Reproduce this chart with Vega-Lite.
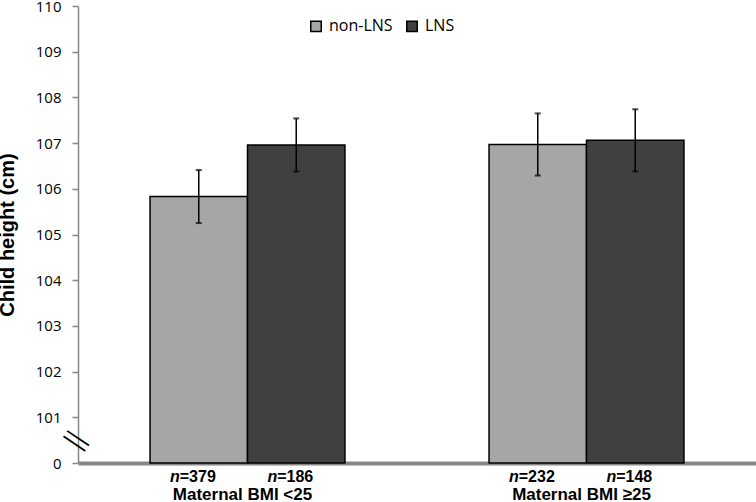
{
  "$schema": "https://vega.github.io/schema/vega-lite/v6.json",
  "width": 678,
  "height": 457,
  "autosize": {"type": "none"},
  "padding": {"left": 78, "top": 6, "right": 0, "bottom": 39},
  "background": "white",
  "config": {"view": {"stroke": null}, "font": "Liberation Sans"},
  "data": {
    "values": [
      {"group": "Maternal BMI <25", "series": "non-LNS", "mean": 105.83, "lo": 105.25, "hi": 106.41, "n": "=379"},
      {"group": "Maternal BMI <25", "series": "LNS", "mean": 106.96, "lo": 106.38, "hi": 107.54, "n": "=186"},
      {"group": "Maternal BMI ≥25", "series": "non-LNS", "mean": 106.97, "lo": 106.29, "hi": 107.65, "n": "=232"},
      {"group": "Maternal BMI ≥25", "series": "LNS", "mean": 107.06, "lo": 106.38, "hi": 107.74, "n": "=148"}
    ]
  },
  "layer": [
    {
      "mark": {"type": "bar", "stroke": "black", "strokeWidth": 1.5},
      "encoding": {
        "x": {
          "field": "group", "type": "nominal",
          "sort": ["Maternal BMI <25", "Maternal BMI ≥25"],
          "scale": {"paddingInner": 0.425, "paddingOuter": 0.2125},
          "axis": {
            "title": null, "labelAngle": 0, "ticks": false,
            "domainColor": "#868686", "domainWidth": 4,
            "labelFont": "Liberation Sans", "labelFontSize": 17, "labelFontWeight": "bold",
            "labelColor": "black", "labelPadding": 23, "labelOffset": -5
          }
        },
        "xOffset": {"field": "series", "type": "nominal", "sort": ["non-LNS", "LNS"], "scale": {"paddingInner": 0, "paddingOuter": 0}},
        "y": {
          "field": "mean", "type": "quantitative",
          "scale": {"domain": [100, 110], "zero": false, "nice": false},
          "axis": {
            "values": [100, 101, 102, 103, 104, 105, 106, 107, 108, 109, 110],
            "labelExpr": "datum.value == 100 ? '0' : datum.label",
            "title": "Child height (cm)",
            "titleFont": "Liberation Sans", "titleFontSize": 20, "titleFontWeight": "bold", "titleColor": "black",
            "titleX": -61, "titleY": 228.5, "titleAngle": -90, "titleBaseline": "bottom",
            "labelFont": "Open Sans", "labelFontSize": 15, "labelColor": "black", "labelPadding": 11,
            "tickSize": 6, "tickColor": "#868686", "tickWidth": 1.5,
            "domainColor": "#868686", "domainWidth": 1.5, "grid": false
          }
        },
        "y2": {"datum": 100},
        "color": {
          "field": "series", "type": "nominal",
          "sort": ["non-LNS", "LNS"],
          "scale": {"domain": ["non-LNS", "LNS"], "range": ["#a6a6a6", "#404040"]},
          "legend": {
            "title": null, "orient": "none", "legendX": 230, "legendY": 12, "direction": "horizontal",
            "symbolType": "square", "symbolSize": 110, "symbolStrokeColor": "black", "symbolStrokeWidth": 1.5,
            "symbolOpacity": 1,
            "labelFont": "Open Sans", "labelFontSize": 16, "labelColor": "black", "labelOffset": 5, "columnPadding": 10
          }
        }
      }
    },
    {
      "mark": {"type": "rule", "strokeWidth": 1.5, "color": "black"},
      "encoding": {
        "x": {"field": "group", "type": "nominal", "sort": ["Maternal BMI <25", "Maternal BMI ≥25"]},
        "xOffset": {"field": "series", "type": "nominal", "sort": ["non-LNS", "LNS"]},
        "y": {"field": "lo", "type": "quantitative"},
        "y2": {"field": "hi"}
      }
    },
    {
      "mark": {"type": "tick", "size": 6, "thickness": 2, "color": "black"},
      "encoding": {
        "x": {"field": "group", "type": "nominal", "sort": ["Maternal BMI <25", "Maternal BMI ≥25"]},
        "xOffset": {"field": "series", "type": "nominal", "sort": ["non-LNS", "LNS"]},
        "y": {"field": "lo", "type": "quantitative"}
      }
    },
    {
      "mark": {"type": "tick", "size": 6, "thickness": 2, "color": "black"},
      "encoding": {
        "x": {"field": "group", "type": "nominal", "sort": ["Maternal BMI <25", "Maternal BMI ≥25"]},
        "xOffset": {"field": "series", "type": "nominal", "sort": ["non-LNS", "LNS"]},
        "y": {"field": "hi", "type": "quantitative"}
      }
    },
    {
      "mark": {"type": "text", "align": "right", "baseline": "alphabetic", "dx": -19, "dy": 18.5, "fontStyle": "italic", "fontWeight": "bold", "fontSize": 16, "font": "Liberation Sans", "color": "black", "clip": false},
      "encoding": {
        "x": {"field": "group", "type": "nominal", "sort": ["Maternal BMI <25", "Maternal BMI ≥25"]},
        "xOffset": {"field": "series", "type": "nominal", "sort": ["non-LNS", "LNS"]},
        "y": {"datum": 100, "type": "quantitative"},
        "text": {"value": "n"}
      }
    },
    {
      "mark": {"type": "text", "align": "left", "baseline": "alphabetic", "dx": -19, "dy": 18.5, "fontWeight": "bold", "fontSize": 16, "font": "Liberation Sans", "color": "black", "clip": false},
      "encoding": {
        "x": {"field": "group", "type": "nominal", "sort": ["Maternal BMI <25", "Maternal BMI ≥25"]},
        "xOffset": {"field": "series", "type": "nominal", "sort": ["non-LNS", "LNS"]},
        "y": {"datum": 100, "type": "quantitative"},
        "text": {"field": "n"}
      }
    },
    {
      "data": {"values": [{"note": "axis break"}]},
      "mark": {"type": "text", "text": "=", "font": "DejaVu Sans", "fontWeight": 200, "fontSize": 42, "angle": 34, "align": "center", "baseline": "middle", "color": "black", "clip": false},
      "encoding": {
        "x": {"value": -2},
        "y": {"datum": 100.48, "type": "quantitative"}
      }
    }
  ]
}
